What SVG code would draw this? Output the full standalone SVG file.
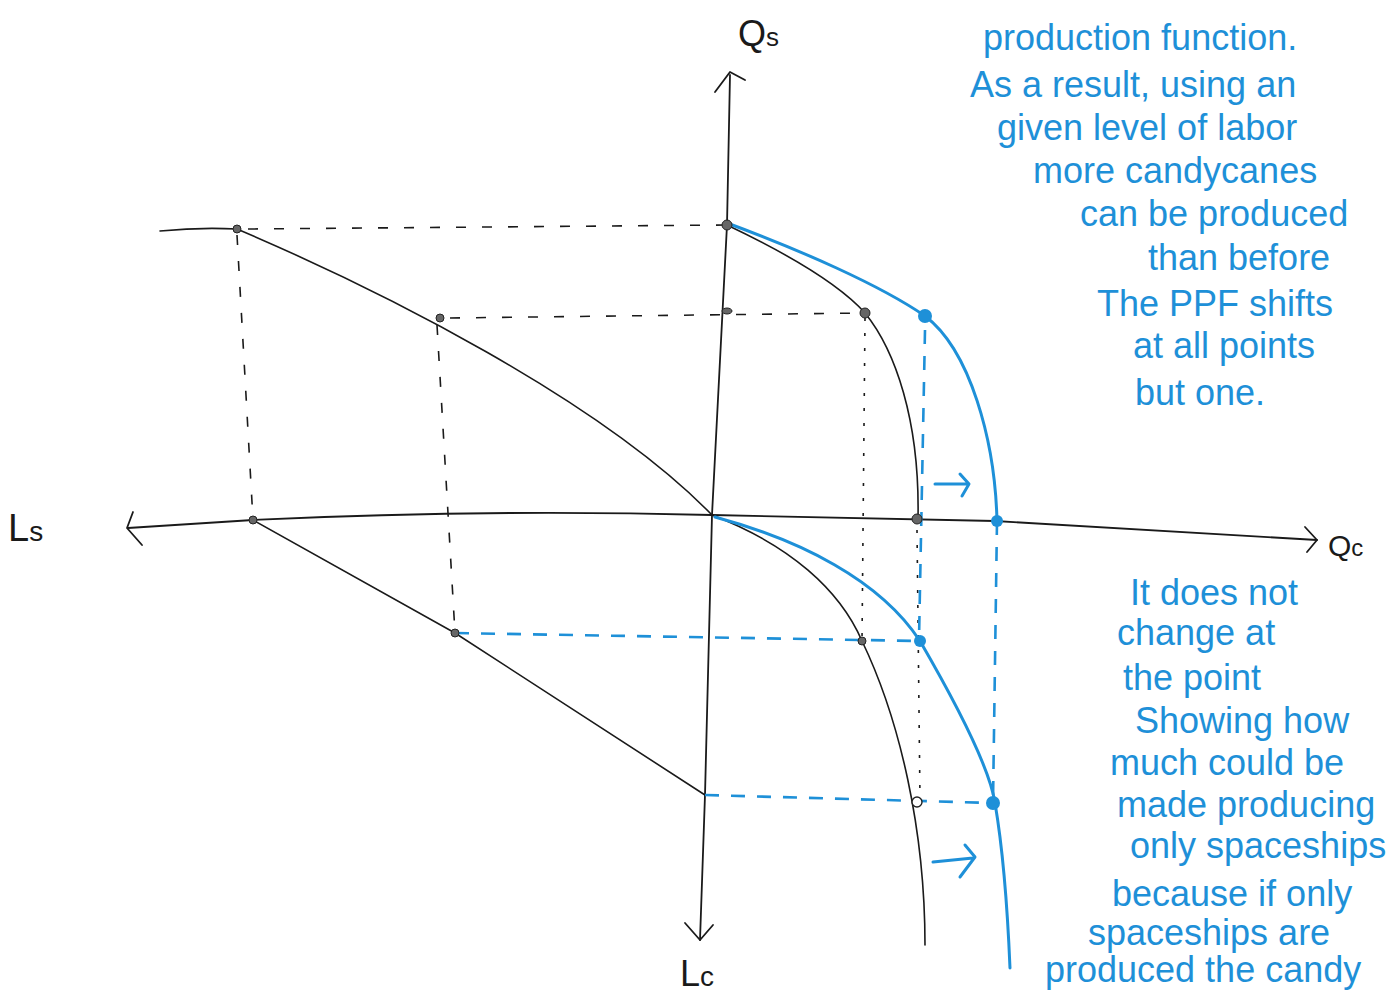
<svg xmlns="http://www.w3.org/2000/svg" width="1394" height="994" viewBox="0 0 1394 994">
<style>
.ax{fill:none;stroke:#1a1a1a;stroke-width:1.8;stroke-linecap:round;stroke-linejoin:round}
.crv{fill:none;stroke:#1a1a1a;stroke-width:1.6;stroke-linecap:round;stroke-linejoin:round}
.dash{fill:none;stroke:#1a1a1a;stroke-width:1.6;stroke-dasharray:10 16}
.dot{fill:none;stroke:#1a1a1a;stroke-width:1.6;stroke-dasharray:3 12}
.bl{fill:none;stroke:#1e90d8;stroke-width:3;stroke-linecap:round;stroke-linejoin:round}
.bld{fill:none;stroke:#1e90d8;stroke-width:2.6;stroke-dasharray:14 12}
.pt{fill:#666;stroke:#222;stroke-width:1}
.bpt{fill:#1e90d8}
.lab{font-family:"Liberation Sans",Arial,sans-serif;fill:#1a1a1a}
.note{font-family:"Liberation Sans",Arial,sans-serif;font-size:36px;fill:#1e90d8}
</style>
<rect width="1394" height="994" fill="#ffffff"/>
<g id="axes">
<path class="ax" d="M730,75 L727,225 L712,515 L705,795 L700,940"/>
<path class="ax" d="M715,92 L730,72 L745,80"/>
<path class="ax" d="M685,923 L700,940 L713,925"/>
<path class="ax" d="M128,528 L253,520 Q480,509 712,515 L995,521 L1317,540"/>
<path class="ax" d="M133,512 L127,528 L142,545"/>
<path class="ax" d="M1305,527 L1317,540 L1307,552"/>
</g>
<g id="black-curves">
<path class="crv" d="M160,231 Q200,227 237,229 C380,290 600,400 712,515"/>
<path class="crv" d="M253,520 L455,633 L705,795"/>
<path class="crv" d="M727,225 C790,255 840,285 865,313 C895,350 920,420 918,519"/>
<path class="crv" d="M712,515 C790,545 840,590 862,641 C900,720 925,830 925,945"/>
</g>
<g id="connectors">
<path class="dash" d="M248,229 L727,225"/>
<path class="dash" d="M450,318 L865,313"/>
<path class="dash" d="M237,235 L253,520"/>
<path class="dash" d="M437,325 L455,633"/>
<path class="dot" d="M865,318 L862,641"/>
<path class="dot" d="M917,530 L920,800"/>
<path class="bld" d="M455,633 L920,641"/>
<path class="bld" d="M705,795 L993,803"/>
<path class="bld" d="M925,330 L919,640"/>
<path class="bld" d="M997,521 L993,803"/>
</g>
<g id="blue-curves">
<path class="bl" d="M727,223 C800,250 880,285 925,316 C970,350 995,440 997,521"/>
<path class="bl" d="M715,517 C800,540 880,580 920,641 C960,710 990,770 995,803 C1003,850 1008,920 1010,968"/>
<path class="bl" d="M935,484 L968,484 M960,474 L969,484 L962,496"/>
<path class="bl" d="M933,862 L973,858 M965,845 L975,857 L960,877"/>
</g>
<g id="points">
<circle class="pt" cx="727" cy="225" r="5"/>
<circle class="pt" cx="865" cy="313" r="5"/>
<circle class="pt" cx="917" cy="519" r="5"/>
<circle class="pt" cx="237" cy="229" r="4"/>
<circle class="pt" cx="440" cy="318" r="4"/>
<circle class="pt" cx="253" cy="520" r="4"/>
<circle class="pt" cx="455" cy="633" r="4"/>
<circle class="pt" cx="862" cy="641" r="4"/>
<ellipse class="pt" cx="727" cy="311" rx="5" ry="3"/>
<circle cx="917" cy="802" r="5" fill="#fff" stroke="#222" stroke-width="1.4"/>
<circle class="bpt" cx="925" cy="316" r="7"/>
<circle class="bpt" cx="997" cy="521" r="6"/>
<circle class="bpt" cx="920" cy="641" r="6"/>
<circle class="bpt" cx="993" cy="803" r="7"/>
</g>
<g id="axis-labels">
<text class="lab" x="738" y="46" font-size="36">Q<tspan font-size="26">s</tspan></text>
<text class="lab" x="8" y="541" font-size="38">L<tspan font-size="28">s</tspan></text>
<text class="lab" x="1328" y="556" font-size="30">Q<tspan font-size="24">c</tspan></text>
<text class="lab" x="680" y="986" font-size="36">L<tspan font-size="28">c</tspan></text>
</g>
<g id="note-top">
<text class="note" x="983" y="50">production function.</text>
<text class="note" x="970" y="97">As a result, using an</text>
<text class="note" x="997" y="140">given level of labor</text>
<text class="note" x="1033" y="183">more candycanes</text>
<text class="note" x="1080" y="226">can be produced</text>
<text class="note" x="1148" y="270">than before</text>
<text class="note" x="1097" y="316">The PPF shifts</text>
<text class="note" x="1133" y="358">at all points</text>
<text class="note" x="1135" y="405">but one.</text>
</g>
<g id="note-bottom">
<text class="note" x="1130" y="605">It does not</text>
<text class="note" x="1117" y="645">change at</text>
<text class="note" x="1123" y="690">the point</text>
<text class="note" x="1135" y="733">Showing how</text>
<text class="note" x="1110" y="775">much could be</text>
<text class="note" x="1117" y="817">made producing</text>
<text class="note" x="1130" y="858">only spaceships</text>
<text class="note" x="1112" y="906">because if only</text>
<text class="note" x="1088" y="945">spaceships are</text>
<text class="note" x="1045" y="982">produced the candy</text>
</g>
</svg>
